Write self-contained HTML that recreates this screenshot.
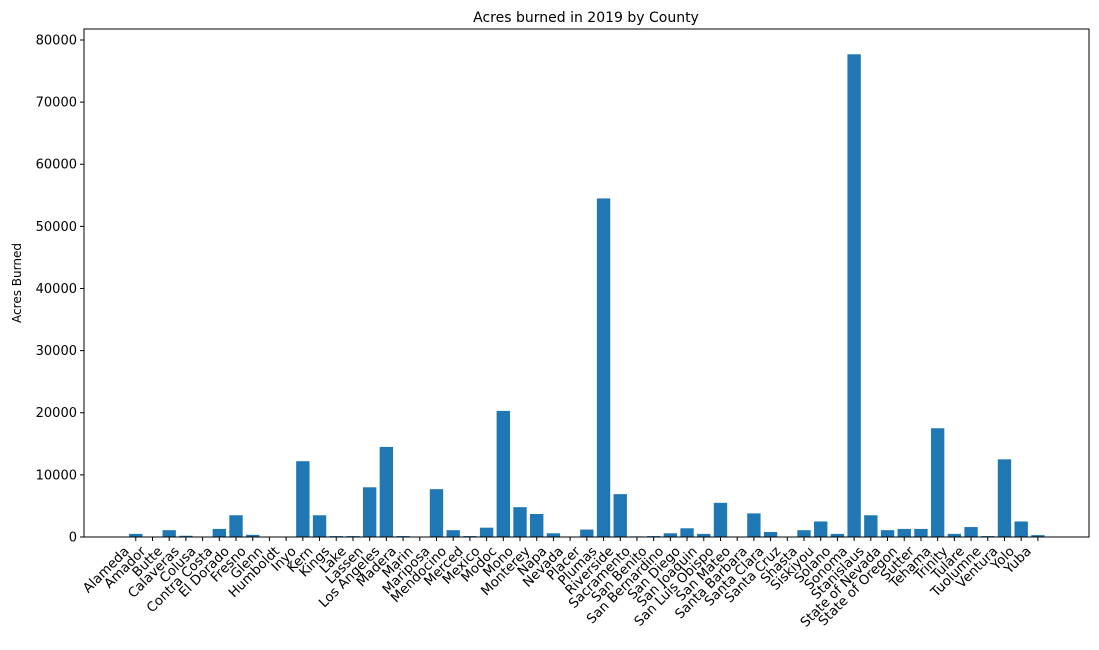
<!DOCTYPE html>
<html><head><meta charset="utf-8"><style>
body{margin:0;background:#fff;font-family:"DejaVu Sans","Liberation Sans",sans-serif;}
</style></head><body>
<svg width="1099" height="646" font-family="DejaVu Sans, Liberation Sans, sans-serif">
<text x="586" y="22" font-size="14" text-anchor="middle">Acres burned in 2019 by County</text>
<text transform="translate(21,283) rotate(-90)" font-size="12" text-anchor="middle">Acres Burned</text>
<g id="bars"></g>
<g id="axes"></g>
<rect x="84" y="29" width="1005" height="508" fill="none" stroke="#000" stroke-width="1"/>
</svg>
<script>
const categories=["Alameda","Amador","Butte","Calaveras","Colusa","Contra Costa","El Dorado","Fresno","Glenn","Humboldt","Inyo","Kern","Kings","Lake","Lassen","Los Angeles","Madera","Marin","Mariposa","Mendocino","Merced","Mexico","Modoc","Mono","Monterey","Napa","Nevada","Placer","Plumas","Riverside","Sacramento","San Benito","San Bernardino","San Diego","San Joaquin","San Luis Obispo","San Mateo","Santa Barbara","Santa Clara","Santa Cruz","Shasta","Siskiyou","Solano","Sonoma","Stanislaus","State of Nevada","State of Oregon","Sutter","Tehama","Trinity","Tulare","Tuolumne","Ventura","Yolo","Yuba"];
const acres=[500,0,1100,200,0,1300,3500,350,0,0,12200,3500,150,150,8000,14500,150,0,7700,1100,150,1500,20300,4800,3700,600,0,1200,54500,6900,100,150,600,1400,500,5500,0,3800,800,0,1100,2500,500,77700,3500,1100,1300,1300,17500,500,1600,150,12500,2500,300];
const yTicks=[0,10000,20000,30000,40000,50000,60000,70000,80000];
const NS="http://www.w3.org/2000/svg";
const L=84,R=1089,T=29,B=537;
const xmin=-3.1,xmax=57.06,ymax=81770;
const xs=i=>L+(i-xmin)/(xmax-xmin)*(R-L);
const ys=v=>B-v/ymax*(B-T);
const bw=0.8*(R-L)/(xmax-xmin);
const bars=document.getElementById('bars'),axes=document.getElementById('axes');
function mk(t,a){const e=document.createElementNS(NS,t);for(const k in a)e.setAttribute(k,a[k]);return e;}
categories.forEach((c,i)=>{
 const r=mk('rect',{x:xs(i)-bw/2,y:ys(acres[i]),width:bw,height:B-ys(acres[i]),fill:'#1f77b4'});
 
 
 bars.appendChild(r);
 const tk=mk('line',{x1:xs(i),x2:xs(i),y1:B,y2:B+4,stroke:'#000'});
 
 
 axes.appendChild(tk);
 const t=mk('text',{'font-size':'13.3','text-anchor':'end',transform:`translate(${xs(i)-6},${B+15}) rotate(-45)`});
 t.textContent=c;
 
 
 axes.appendChild(t);
});
yTicks.forEach(v=>{
 const tk=mk('line',{x1:L-4,x2:L,y1:ys(v),y2:ys(v),stroke:'#000'});
 
 
 axes.appendChild(tk);
 const t=mk('text',{x:L-7,y:ys(v)+4.5,'font-size':'13','text-anchor':'end'});
 t.textContent=v;
 
 
 axes.appendChild(t);
});
</script>
</body></html>
